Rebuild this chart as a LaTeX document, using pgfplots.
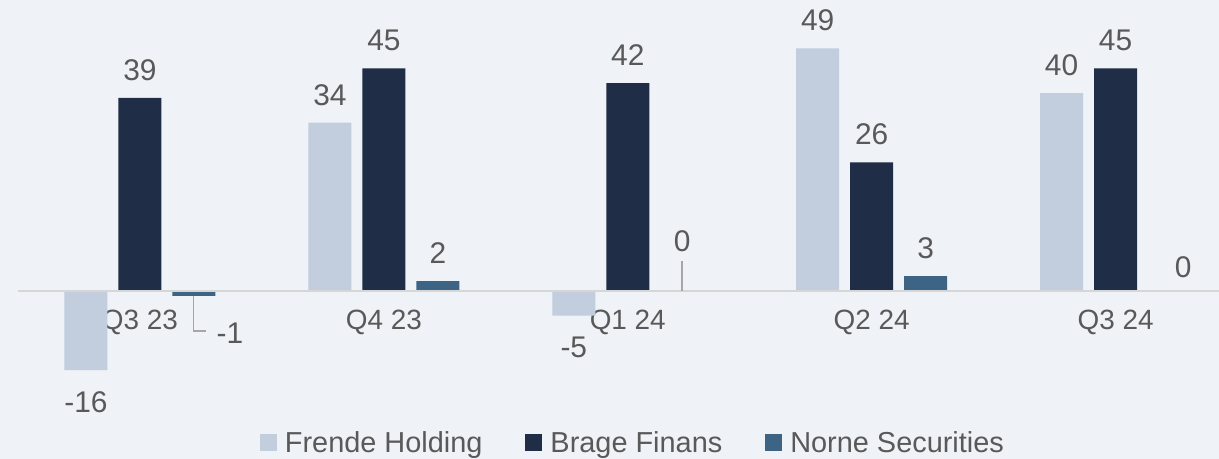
\documentclass[border=0pt]{standalone}
\usepackage{fontspec}
\setmainfont{Liberation Sans}
\usepackage{pgfplots}
\pgfplotsset{compat=1.18}
\definecolor{bg}{RGB}{239,242,247}
\definecolor{frende}{RGB}{194,205,221}
\definecolor{brage}{RGB}{32,45,71}
\definecolor{norne}{RGB}{62,100,133}
\definecolor{txt}{RGB}{89,89,89}
\definecolor{zl}{RGB}{214,214,214}
\definecolor{lead}{RGB}{166,166,166}
\pgfplotsset{sqleg/.style={legend image code/.code={\fill[##1,draw=none] (0bp,-8.5bp) rectangle (17bp,8.5bp);}}}
\newcommand\labfont{\fontsize{30}{34}\selectfont}
\begin{document}
\begin{tikzpicture}
\fill[bg] (-18bp,0) rectangle (1201bp,459bp);
\begin{axis}[
  at={(0,0)}, anchor=south west,
  scale only axis, width=1201bp, height=459bp,
  xmin=-0.5, xmax=4.424, ymin=-33.94, ymax=58.79,
  clip=false,
  axis line style={draw=none},
  ytick=\empty,
  xtick={0,1,2,3,4},
  xticklabels={Q3 23,Q4 23,Q1 24,Q2 24,Q3 24},
  major tick length=0pt,
  xticklabel style={font=\fontsize{28}{32}\selectfont, text=txt, anchor=north, inner sep=0pt, yshift=149bp},
  ybar=11bp, bar width=43bp,
  point meta=explicit symbolic,
  nodes near coords,
  visualization depends on={y \as \rawy},
  every node near coord/.append style={font=\labfont, text=txt, inner xsep=0pt, inner ysep=17bp,
     anchor=\ifdim\rawy pt<0pt north\else south\fi, yshift={(\rawy<0)*(-4)}},
  legend columns=3,
  legend style={draw=none, fill=none, at={(rel axis cs:0.512,0.035)}, anchor=center,
    font=\fontsize{29}{33}\selectfont, text=txt,
    cells={inner sep=0pt},
    /tikz/every even column/.append style={column sep=41bp},
    /tikz/every odd column/.append style={column sep=6bp}},
]
\addplot[fill=frende, draw=none, sqleg] table[meta=l] {
x y l
0 -16 -16
1 34 34
2 -5 -5
3 49 49
4 40 40
};
\addplot[fill=brage, draw=none, sqleg] table[meta=l] {
x y l
0 39 39
1 45 45
2 42 42
3 26 26
4 45 45
};
\addplot[fill=norne, draw=none, sqleg] table[meta=l] {
x y l
0 -1 {}
1 2 2
2 -0.2 {}
3 3 3
4 0 {}
};
\legend{Frende Holding, Brage Finans, Norne Securities}
\draw[zl, line width=2.7bp] (axis cs:-0.5,0) -- (axis cs:4.424,0);
\draw[lead, line width=1.6bp] (axis cs:0.219,-1.1) -- (axis cs:0.219,-8.08) -- (axis cs:0.2725,-8.08);
\draw[lead, line width=1.6bp] (axis cs:2.2234,6.06) -- (axis cs:2.2234,0);
\node[font=\labfont, text=txt, anchor=west, inner sep=0pt] at (axis cs:0.3135,-8.5) {-1};
\node[font=\labfont, text=txt, anchor=south, inner sep=0pt] at (axis cs:2.2234,7.88) {0};
\node[font=\labfont, text=txt, anchor=south, inner sep=0pt] at (axis cs:4.2766,2.63) {0};
\end{axis}
\pgfresetboundingbox
\path[use as bounding box] (-18bp,0) rectangle (1201bp,459bp);
\end{tikzpicture}
\end{document}
